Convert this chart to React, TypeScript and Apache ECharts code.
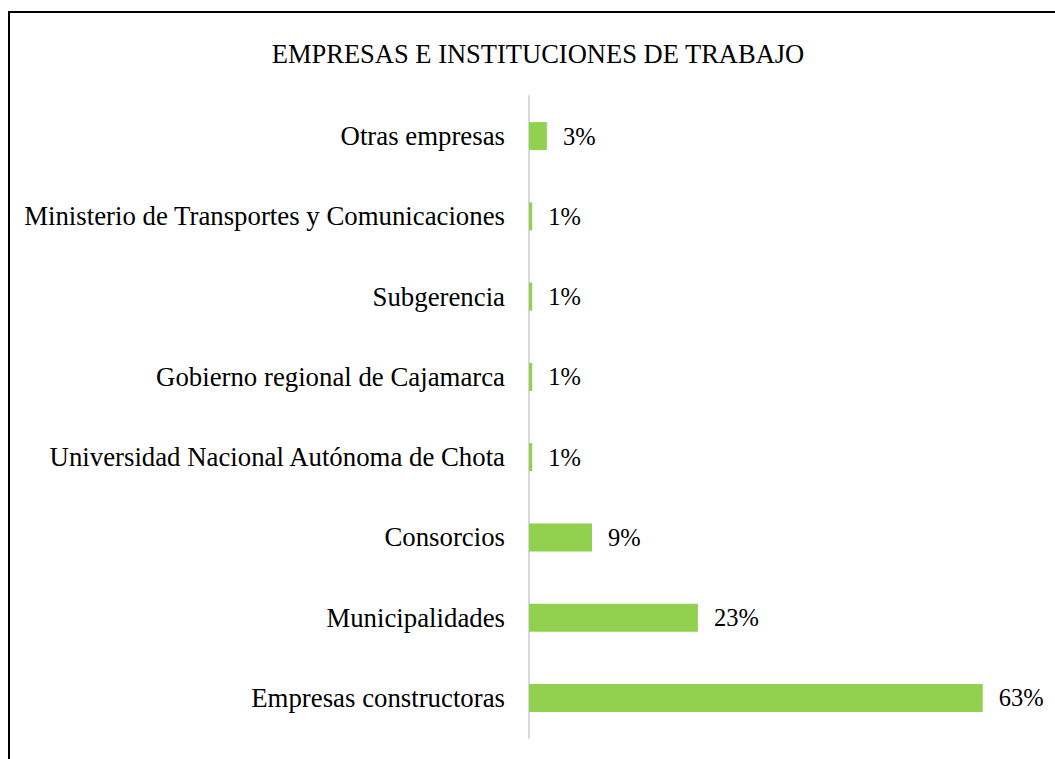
import React, { useEffect, useRef } from "react";
import * as echarts from "echarts";

const categories = [
  "Empresas constructoras",
  "Municipalidades",
  "Consorcios",
  "Universidad Nacional Autónoma de Chota",
  "Gobierno regional de Cajamarca",
  "Subgerencia",
  "Ministerio de Transportes y Comunicaciones",
  "Otras empresas",
];
const values = [63.4, 23.6, 8.8, 0.45, 0.45, 0.45, 0.45, 2.5];
const labelTexts = ["63%", "23%", "9%", "1%", "1%", "1%", "1%", "3%"];
const titleText = "EMPRESAS E INSTITUCIONES DE TRABAJO";

const FONT = "Liberation Serif";

export default function App() {
  const ref = useRef<HTMLDivElement>(null);
  useEffect(() => {
    if (!ref.current) return;
    const chart = echarts.init(ref.current, null, { renderer: "svg" });
    chart.setOption({
      animation: false,
      backgroundColor: "#ffffff",
      textStyle: { fontFamily: FONT },
      title: {
        text: titleText,
        left: 533,
        textAlign: "center",
        top: 35,
        textStyle: { fontFamily: FONT, fontSize: 26.5, fontWeight: "normal", color: "#000000" },
      },
      graphic: [
        {
          type: "rect",
          shape: { x: 9, y: 12, width: 1200, height: 900 },
          style: { fill: "none", stroke: "#000000", lineWidth: 2 },
          silent: true,
        },
      ],
      grid: { left: 529, right: 25, top: 96, bottom: 759 - 738 },
      xAxis: {
        type: "value",
        min: 0,
        max: 70,
        show: false,
        splitLine: { show: false },
      },
      yAxis: {
        type: "category",
        data: categories,
        axisLine: { show: true, lineStyle: { color: "#d9d9d9", width: 2 } },
        axisTick: { show: false },
        axisLabel: { fontFamily: FONT, fontSize: 26.8, color: "#000000", margin: 24 },
      },
      series: [
        {
          type: "bar",
          data: values,
          barWidth: 28,
          itemStyle: { color: "#92D050" },
          label: {
            show: true,
            position: "right",
            distance: 16,
            fontFamily: FONT,
            fontSize: 24.5,
            color: "#000000",
            formatter: (p: any) => labelTexts[p.dataIndex],
          },
        },
      ],
    });
    return () => chart.dispose();
  }, []);
  return (
    <div
      ref={ref}
      style={{ position: "absolute", left: 0, top: 0, width: 1055, height: 759 }}
    />
  );
}
